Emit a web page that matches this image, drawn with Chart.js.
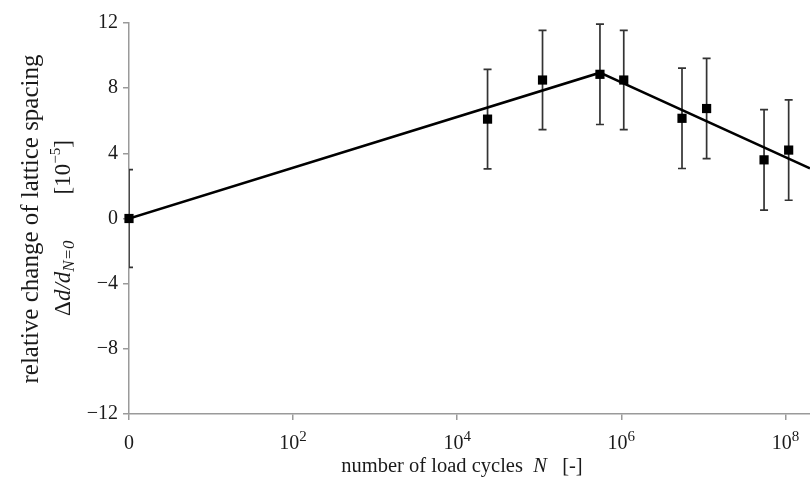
<!DOCTYPE html>
<html>
<head>
<meta charset="utf-8">
<script src="https://cdn.jsdelivr.net/npm/chart.js@4/dist/chart.umd.min.js"></script>
<style>
  html, body { margin: 0; padding: 0; background: #fff; }
  #wrap { width: 810px; height: 486px; }
</style>
</head>
<body>
<div id="wrap"><canvas id="chart" width="810" height="486"></canvas></div>
<script>
// positions on the x axis are decades: log10(N), with N = 0 put at 0
const cycleExp = [0, 4.37, 5.04, 5.74, 6.03, 6.74, 7.04, 7.74, 8.04];
const spacingChange = [0, 6.1, 8.5, 8.85, 8.5, 6.15, 6.75, 3.6, 4.2];
const spacingErr = [3.0, 3.05, 3.05, 3.08, 3.05, 3.08, 3.08, 3.08, 3.08];

// fitted bilinear trend
const trendExp = [0, 5.74, 8.30];
const trendVal = [0, 8.95, 3.08];

const xTickValues = [0, 2, 4, 6, 8];
const xTickBase = ['0', '10', '10', '10', '10'];
const xTickPower = ['', '2', '4', '6', '8'];
const yTickValues = [-12, -8, -4, 0, 4, 8, 12];

const FONT = '"Liberation Serif", "DejaVu Serif", serif';
const TEXT = '#1a1a1a';
const AXIS = '#9a9a9a';

const errorBars = {
    id: 'errorBars',
    beforeDatasetsDraw(chart) {
        const { ctx, chartArea, scales } = chart;
        ctx.save();
        ctx.beginPath();
        ctx.rect(chartArea.left, chartArea.top - 5, chartArea.right - chartArea.left, chartArea.bottom - chartArea.top + 10);
        ctx.clip();
        ctx.strokeStyle = '#333';
        ctx.lineWidth = 1.7;
        cycleExp.forEach((xv, i) => {
            const x = scales.x.getPixelForValue(xv);
            const top = scales.y.getPixelForValue(spacingChange[i] + spacingErr[i]);
            const bot = scales.y.getPixelForValue(spacingChange[i] - spacingErr[i]);
            ctx.beginPath();
            ctx.moveTo(x, top); ctx.lineTo(x, bot);
            ctx.moveTo(x - 4, top); ctx.lineTo(x + 4, top);
            ctx.moveTo(x - 4, bot); ctx.lineTo(x + 4, bot);
            ctx.stroke();
        });
        ctx.restore();
    }
};

function drawRich(ctx, parts, cx, cy, vertical) {
    let total = 0;
    parts.forEach(p => { ctx.font = p.font; p.w = ctx.measureText(p.text).width; total += p.w; });
    ctx.save();
    ctx.translate(cx, cy);
    if (vertical) ctx.rotate(-Math.PI / 2);
    ctx.fillStyle = TEXT;
    ctx.textBaseline = 'middle';
    ctx.textAlign = 'left';
    let x = -total / 2;
    parts.forEach(p => {
        ctx.font = p.font;
        ctx.fillText(p.text, x, p.dy || 0);
        x += p.w;
    });
    ctx.restore();
}

const axisTitles = {
    id: 'axisTitles',
    afterDraw(chart) {
        const ctx = chart.ctx;
        const xs = chart.scales.x;
        const labelY = xs.bottom - 72 + 30;
        xTickValues.forEach((v, i) => {
            const parts = [{ text: xTickBase[i], font: '20px ' + FONT }];
            if (xTickPower[i]) parts.push({ text: xTickPower[i], font: '15px ' + FONT, dy: -7 });
            drawRich(ctx, parts, xs.getPixelForValue(v), labelY, false);
        });
        drawRich(ctx, [{ text: 'relative change of lattice spacing', font: '25px ' + FONT }], 31, 219, true);
        drawRich(ctx, [
            { text: 'Δ', font: '23px ' + FONT },
            { text: 'd/d', font: 'italic 23px ' + FONT },
            { text: 'N=0', font: 'italic 17px ' + FONT, dy: 6 },
            { text: '        [10', font: '23px ' + FONT },
            { text: '−5', font: '15px ' + FONT, dy: -8 },
            { text: ']', font: '23px ' + FONT }
        ], 64, 228, true);
        drawRich(ctx, [
            { text: 'number of load cycles  ', font: '20.5px ' + FONT },
            { text: 'N', font: 'italic 20.5px ' + FONT },
            { text: '   [-]', font: '20.5px ' + FONT }
        ], 462, 467, false);
    }
};

new Chart(document.getElementById('chart'), {
    type: 'scatter',
    data: {
        datasets: [
            {
                label: 'trend',
                data: trendExp.map((x, i) => ({ x, y: trendVal[i] })),
                showLine: true,
                borderColor: '#000',
                borderWidth: 2.6,
                pointRadius: 0,
                order: 2
            },
            {
                label: 'measured',
                data: cycleExp.map((x, i) => ({ x, y: spacingChange[i] })),
                pointStyle: 'rect',
                pointRadius: 6.5,
                backgroundColor: '#000',
                borderColor: '#000',
                borderWidth: 0,
                clip: false,
                order: 1
            }
        ]
    },
    options: {
        responsive: false,
        animation: false,
        layout: { autoPadding: false, padding: { top: 23, right: 0, left: 0, bottom: 0 } },
        plugins: {
            legend: { display: false },
            tooltip: { enabled: false }
        },
        scales: {
            x: {
                type: 'linear',
                min: 0,
                max: 8.30,
                afterBuildTicks: s => { s.ticks = xTickValues.map(v => ({ value: v })); },
                afterFit: s => { s.height = 72; s.paddingLeft = 0; s.paddingRight = 0; },
                ticks: {
                    color: TEXT,
                    font: { family: FONT, size: 20 },
                    padding: 6,
                    maxRotation: 0,
                    autoSkip: false,
                    callback: () => ''
                },
                grid: { display: true, drawOnChartArea: false, color: AXIS, tickLength: 6, lineWidth: 1.5 },
                border: { color: AXIS, width: 1.5 }
            },
            y: {
                min: -12,
                max: 12,
                afterBuildTicks: s => { s.ticks = yTickValues.map(v => ({ value: v })); },
                afterFit: s => { s.width = 129; s.paddingTop = 0; s.paddingBottom = 0; },
                ticks: {
                    color: TEXT,
                    font: { family: FONT, size: 20 },
                    padding: 5,
                    callback: v => (v < 0 ? '−' + Math.abs(v) : String(v))
                },
                grid: { display: true, drawOnChartArea: false, color: AXIS, tickLength: 6, lineWidth: 1.5 },
                border: { color: AXIS, width: 1.5 }
            }
        }
    },
    plugins: [errorBars, axisTitles]
});
</script>
</body>
</html>
